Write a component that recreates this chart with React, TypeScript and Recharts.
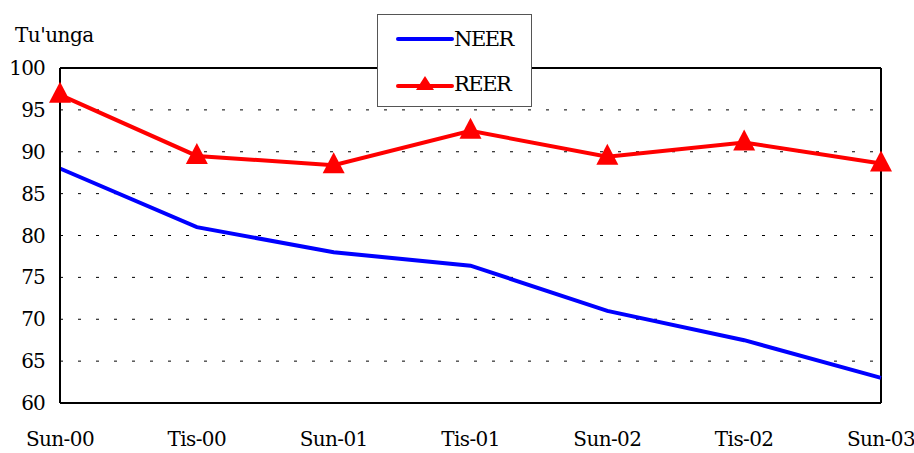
import { LineChart, Line, XAxis, YAxis, CartesianGrid, ReferenceLine } from 'recharts'

const periods = ['Sun-00', 'Tis-00', 'Sun-01', 'Tis-01', 'Sun-02', 'Tis-02', 'Sun-03']
const neer = [88, 81, 78, 76.4, 71, 67.5, 63]
const reer = [96.8, 89.5, 88.4, 92.5, 89.4, 91.1, 88.6]
const yTicks = [60, 65, 70, 75, 80, 85, 90, 95, 100]

const data = periods.map((p, i) => ({ period: p, NEER: neer[i], REER: reer[i] }))

const font = "'DejaVu Serif', serif"

const Triangle = (props: any) => {
  const { cx, cy } = props
  if (cx == null || cy == null) return null
  return <path d={`M${cx},${cy - 13} L${cx + 11},${cy + 8} L${cx - 11},${cy + 8} Z`} fill="#ff0000" />
}

export default function App() {
  return (
    <div style={{ position: 'absolute', left: 0, top: 0, width: 914, height: 453, background: '#fff', fontFamily: font }}>
      <div style={{ position: 'absolute', left: 15, top: 23, fontSize: 20, color: '#000', fontFamily: font, letterSpacing: -0.5 }}>Tu'unga</div>
      {/* legend box */}
      <div style={{ position: 'absolute', left: 377, top: 14, width: 153, height: 91, border: '1px solid #555', background: '#fff', zIndex: 2 }}>
        <div style={{ position: 'absolute', left: 18, top: 12, display: 'flex', alignItems: 'center' }}>
          <svg width={58} height={24}><line x1={2} y1={12} x2={56} y2={12} stroke="#0000ff" strokeWidth={4} strokeLinecap="round" /></svg>
          <span style={{ fontSize: 21, fontFamily: font, letterSpacing: -1.5 }}>NEER</span>
        </div>
        <div style={{ position: 'absolute', left: 18, top: 57, display: 'flex', alignItems: 'center' }}>
          <svg width={58} height={24}>
            <line x1={2} y1={14} x2={56} y2={14} stroke="#ff0000" strokeWidth={4} strokeLinecap="round" />
            <path d="M29,4 L38,18 L20,18 Z" fill="#ff0000" />
          </svg>
          <span style={{ fontSize: 21, fontFamily: font, letterSpacing: -1.5 }}>REER</span>
        </div>
      </div>
      <LineChart width={914} height={453} data={data} margin={{ top: 68, right: 33, bottom: 0, left: 0 }} style={{ fontFamily: font }}>
        <CartesianGrid vertical={false} stroke="#000" strokeDasharray="3 15" strokeWidth={1} />
        <XAxis
          dataKey="period"
          height={50}
          tickLine={false}
          tickSize={0}
          tickMargin={29}
          axisLine={{ stroke: '#000', strokeWidth: 2 }}
          tick={{ fill: '#000', fontSize: 20, fontFamily: font, letterSpacing: -0.6 }}
          interval={0}
        />
        <YAxis
          width={60}
          domain={[60, 100]}
          ticks={yTicks}
          tickLine={false}
          tickSize={0}
          tickMargin={15}
          axisLine={{ stroke: '#000', strokeWidth: 2 }}
          tick={{ fill: '#000', fontSize: 20, fontFamily: font, letterSpacing: -0.8 }}
        />
        <ReferenceLine y={100} stroke="#000" strokeWidth={2} />
        <ReferenceLine x="Sun-03" stroke="#000" strokeWidth={2} />
        <Line dataKey="NEER" stroke="#0000ff" strokeWidth={4} dot={false} isAnimationActive={false} />
        <Line dataKey="REER" stroke="#ff0000" strokeWidth={4} dot={<Triangle />} activeDot={false} isAnimationActive={false} />
      </LineChart>
    </div>
  )
}
